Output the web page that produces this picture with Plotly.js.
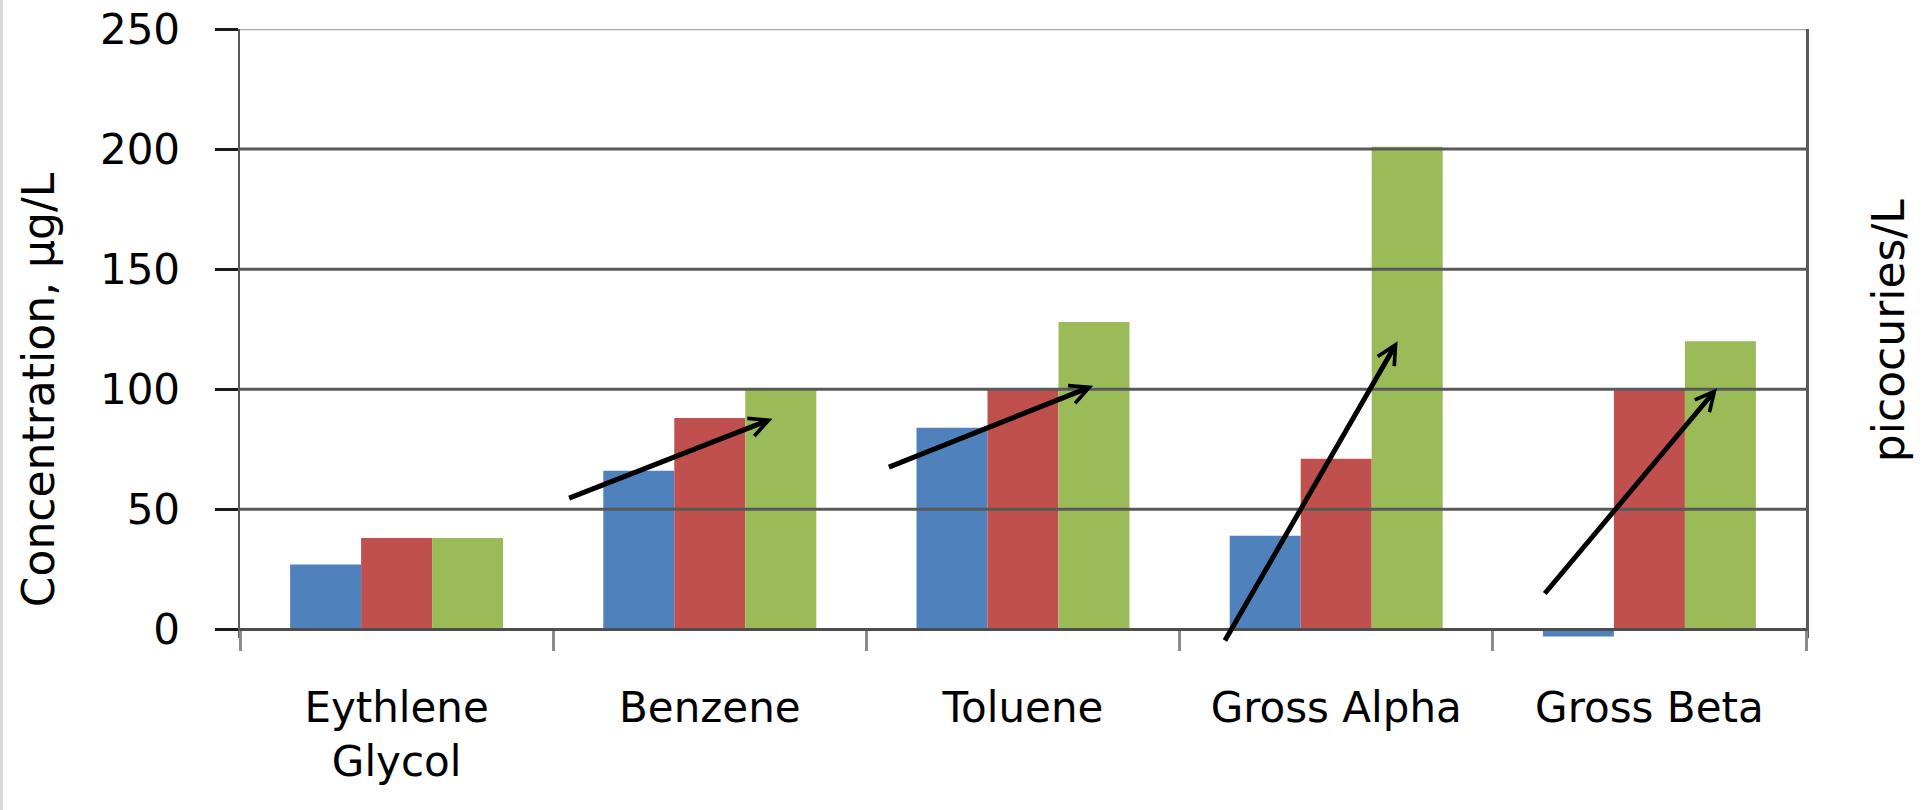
<!DOCTYPE html>
<html>
<head>
<meta charset="utf-8">
<script src="https://cdn.plot.ly/plotly-3.0.1.min.js"></script>
<style>
  html, body { margin: 0; padding: 0; background: #ffffff; }
  #chart { position: absolute; left: 0; top: 0; width: 1929px; height: 810px; }
  #edge { position: absolute; left: 0; top: 0; width: 3px; height: 810px; background: #d9d9d9; z-index: 5; }
</style>
</head>
<body>
<div id="chart"></div>
<div id="edge"></div>
<script>
// ---- data ----
const categories = ['Eythlene Glycol', 'Benzene', 'Toluene', 'Gross Alpha', 'Gross Beta'];
const tickLabels = ['Eythlene<br>Glycol', 'Benzene', 'Toluene', 'Gross Alpha', 'Gross Beta'];
const seriesBlue  = [27, 66, 84, 39, -3];
const seriesRed   = [38, 88, 100, 71, 100];
const seriesGreen = [38, 100, 128, 201, 120];
const yTicks = [0, 50, 100, 150, 200, 250];
const leftTitle = 'Concentration, µg/L';
const rightTitle = 'picocuries/L';

const FONT = 'DejaVu Sans, Verdana, sans-serif';

function barTrace(name, values, color) {
  return {
    type: 'bar', name: name, x: categories, y: values,
    marker: { color: color, line: { width: 0 } },
    showlegend: false, hoverinfo: 'x+y'
  };
}

const traces = [
  barTrace('Series 1', seriesBlue, '#4F81BD'),
  barTrace('Series 2', seriesRed, '#C0504D'),
  barTrace('Series 3', seriesGreen, '#9BBB59')
];

const yMin = -3.6, yMax = yTicks[yTicks.length - 1];
const plotTop = 29, zeroPx = 629;
const pxPerUnit = (zeroPx - plotTop) / yMax;
const plotBottom = zeroPx + (-yMin) * pxPerUnit;
const H = 810, W = 1929;
const marginL = 240, marginR = 123;

// horizontal gridlines drawn above the bars (as in the reference)
const shapes = yTicks.filter(v => v > 0).map(v => ({
  type: 'line', xref: 'paper', x0: 0, x1: 1, yref: 'y', y0: v, y1: v, layer: 'above',
  line: v === yMax ? { color: '#a6a6a6', width: 2.5 } : { color: '#595959', width: 3 }
}));

function arrow(x, y, ax, ay) {
  return {
    xref: 'x', yref: 'y', axref: 'x', ayref: 'y',
    x: x, y: y, ax: ax, ay: ay, text: '', showarrow: true,
    arrowhead: 5, arrowsize: 0.75, arrowwidth: 5, arrowcolor: '#000000', standoff: 0
  };
}

const annotations = [
  arrow(1.200, 87.7, 0.546, 54.4),
  arrow(2.224, 101.4, 1.567, 67.3),
  arrow(3.196, 120.0, 2.642, -5.3),
  arrow(4.216, 100.4, 3.662, 14.3),
  {
    text: leftTitle, textangle: -90, showarrow: false,
    xref: 'paper', yref: 'paper', x: (38 - marginL) / (W - marginL - marginR),
    y: (plotBottom - 390) / (plotBottom - plotTop), xanchor: 'center', yanchor: 'middle',
    font: { family: FONT, size: 44, color: '#000000' }
  },
  {
    text: rightTitle, textangle: -90, showarrow: false,
    xref: 'paper', yref: 'paper', x: (1888 - marginL) / (W - marginL - marginR),
    y: (plotBottom - 331) / (plotBottom - plotTop), xanchor: 'center', yanchor: 'middle',
    font: { family: FONT, size: 44, color: '#000000' }
  }
];

const layout = {
  width: W, height: H,
  margin: { l: marginL, r: marginR, t: plotTop, b: H - plotBottom, pad: 0 },
  paper_bgcolor: '#ffffff', plot_bgcolor: '#ffffff',
  barmode: 'group', bargap: 0.32, bargroupgap: 0,
  font: { family: FONT, color: '#000000' },
  xaxis: {
    type: 'category', tickvals: categories, ticktext: tickLabels,
    anchor: 'free', position: (plotBottom - zeroPx) / (plotBottom - plotTop),
    tickson: 'boundaries', ticks: 'outside', ticklen: 20, tickwidth: 3, tickcolor: '#8c8c8c',
    showline: true, linecolor: '#4d4d4d', linewidth: 3,
    showgrid: false, zeroline: false,
    tickfont: { family: FONT, size: 42, color: '#000000' },
    ticklabelstandoff: 40
  },
  yaxis: {
    range: [yMin, yMax], tickvals: yTicks, ticktext: yTicks.map(String),
    ticks: 'outside', ticklen: 23, tickwidth: 3, tickcolor: '#1a1a1a',
    showline: true, mirror: true, linecolor: '#595959', linewidth: 2.5,
    showgrid: false, zeroline: false,
    tickfont: { family: FONT, size: 42, color: '#000000' },
    ticklabelstandoff: 26
  },
  shapes: shapes,
  annotations: annotations
};

Plotly.newPlot('chart', traces, layout, { displayModeBar: false, staticPlot: true });
</script>
</body>
</html>
